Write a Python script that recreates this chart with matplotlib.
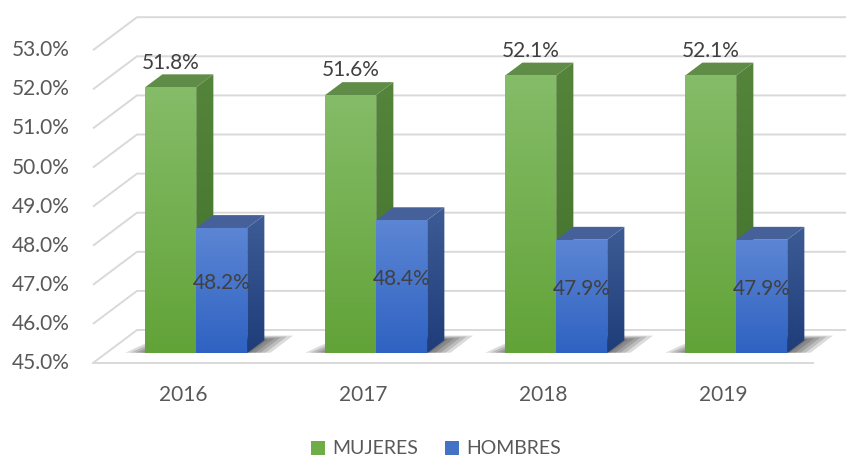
import numpy as np
import matplotlib.pyplot as plt
from matplotlib.patches import Polygon, Rectangle
from matplotlib.colors import LinearSegmentedColormap

years = ['2016', '2017', '2018', '2019']
mujeres = [51.8, 51.6, 52.1, 52.1]
hombres = [48.2, 48.4, 47.9, 47.9]
y_ticks = [45, 46, 47, 48, 49, 50, 51, 52, 53]
series_names = ['MUJERES', 'HOMBRES']

plt.rcParams['font.family'] = ['Lato', 'DejaVu Sans']

# layout of the fake 3d box (pixels -> data units)
W, H = 846, 457
px_cat = 180.0      # pixels per category on the front plane
px_pct = 39.1       # pixels per 1 percent
x0_px, y0_px = 93, 363
depth_x = 44 / px_cat
depth_y = 33 / px_pct
bar_front = 0.30    # where bars start in depth (0 front wall, 1 back wall)
bar_depth = 0.39
bar_w = 51 / px_cat
vmin = y_ticks[0]

fig = plt.figure(figsize=(W / 100, H / 100), dpi=100)
ax = fig.add_axes([0, 0, 1, 1])
ax.axis('off')

grid_c = '#d9d9d9'
for v in y_ticks:
    ax.plot([0, depth_x, len(years) + depth_x], [v, v + depth_y, v + depth_y],
            color=grid_c, lw=1.4, zorder=1, solid_capstyle='butt')
ax.plot([0, len(years)], [vmin, vmin], color=grid_c, lw=1.4, zorder=1)


def grad_poly(verts, c_top, c_bot, z):
    poly = Polygon(verts, closed=True, facecolor='none', edgecolor='none', zorder=z)
    ax.add_patch(poly)
    xs = [p[0] for p in verts]
    ys = [p[1] for p in verts]
    cmap = LinearSegmentedColormap.from_list('g', [c_bot, c_top])
    im = ax.imshow(np.linspace(0, 1, 64).reshape(-1, 1), cmap=cmap, origin='lower',
                   extent=[min(xs), max(xs), min(ys), max(ys)], aspect='auto',
                   interpolation='bilinear', zorder=z)
    im.set_clip_path(poly)


def box(x, top, off, front_c, side_c, top_c, z):
    bx, by = bar_depth * depth_x, bar_depth * depth_y
    base = vmin + off
    t = top + off
    grad_poly([(x + bar_w, base), (x + bar_w + bx, base + by), (x + bar_w + bx, t + by), (x + bar_w, t)],
              side_c[0], side_c[1], z)
    ax.add_patch(Polygon([(x, t), (x + bar_w, t), (x + bar_w + bx, t + by), (x + bx, t + by)],
                         closed=True, facecolor=top_c, edgecolor='none', zorder=z))
    grad_poly([(x, base), (x + bar_w, base), (x + bar_w, t), (x, t)], front_c[0], front_c[1], z + 0.1)


off_x = bar_front * depth_x
off_y = bar_front * depth_y
for k in range(len(years)):
    cx = k + 0.5 + off_x
    # soft shadow on the floor
    for i in range(7):
        s = 0.014 * i
        d0, d1 = bar_front + 0.02, bar_front + bar_depth + 0.14 - s * 2
        l, r = cx - bar_w - 0.11 + s * 2, cx + bar_w + 0.13 - s * 2
        pts = [(l, vmin + off_y + 0.01), (r, vmin + off_y + 0.01),
               (r + (d1 - d0) * depth_x, vmin + d1 * depth_y),
               (l + (d1 - d0) * depth_x + 0.08, vmin + d1 * depth_y)]
        ax.add_patch(Polygon(pts, closed=True, facecolor='black', alpha=0.14,
                             edgecolor='none', zorder=2))
    box(cx - bar_w, mujeres[k], off_y, ('#85bc68', '#62a338'), ('#55843b', '#41702a'),
        '#5f8c47', 3 + k)
    box(cx, hombres[k], off_y, ('#5c86d4', '#2f62c2'), ('#3d5c96', '#1f3d79'),
        '#46609a', 3.5 + k)
    ax.text(cx - bar_w / 2, mujeres[k] + off_y + 0.63, f'{mujeres[k]:.1f}%', ha='center', va='center',
            fontsize=15, color='#404040', zorder=20)
    ax.text(cx + bar_w / 2, (vmin + hombres[k]) / 2 + off_y + 0.2, f'{hombres[k]:.1f}%',
            ha='center', va='center', fontsize=15, color='#404040', zorder=20)
    ax.text(k + 0.5, vmin - 0.82, years[k], ha='center', va='center', fontsize=15, color='#595959')

for v in y_ticks:
    ax.text(-23 / px_cat, v, f'{v:.1f}%', ha='right', va='center', fontsize=15, color='#595959')

ax.set_xlim(-x0_px / px_cat, (W - x0_px) / px_cat)
ax.set_ylim(vmin - (H - y0_px) / px_pct, vmin + y0_px / px_pct)

# legend
leg_cols = ['#70ad47', '#4472c4']
leg_x = [311, 445]
for name, c, lx in zip(series_names, leg_cols, leg_x):
    fig.add_artist(Rectangle((lx / W, 1 - 455 / H), 14 / W, 14 / H, transform=fig.transFigure,
                             facecolor=c, edgecolor='none'))
    fig.text((lx + 21) / W, 1 - 448 / H, name, ha='left', va='center', fontsize=14, color='#595959')

fig.savefig('out.png', dpi=100)
